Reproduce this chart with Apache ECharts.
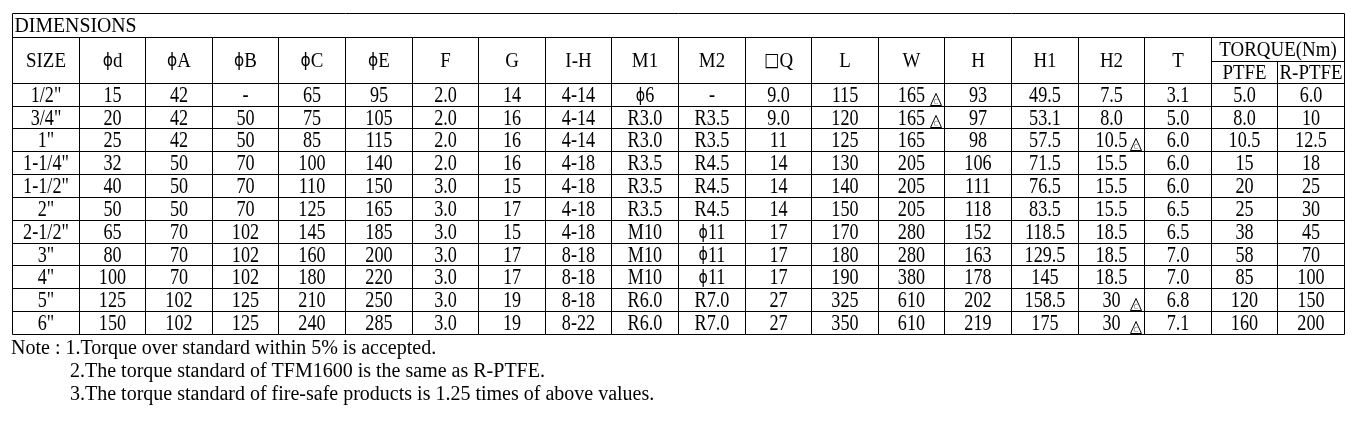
<!DOCTYPE html>
<html>
<head>
<meta charset="utf-8">
<script src="https://cdn.jsdelivr.net/npm/echarts@6/dist/echarts.min.js"></script>
<style>
html,body{margin:0;padding:0;background:#fff;}
#main{width:1363px;height:425px;}
</style>
</head>
<body>
<div id="main"></div>
<script>
// ---- data ----
const TITLE = 'DIMENSIONS';
const HEADERS = ['SIZE','ϕd','ϕA','ϕB','ϕC','ϕE','F','G','I-H','M1','M2','□Q','L','W','H','H1','H2','T'];
const TORQUE_HEADER = 'TORQUE(Nm)';
const TORQUE_SUB = ['PTFE','R-PTFE'];

const SIZE  = ['1/2"','3/4"','1"','1-1/4"','1-1/2"','2"','2-1/2"','3"','4"','5"','6"'];
const PHI_D = ['15','20','25','32','40','50','65','80','100','125','150'];
const PHI_A = ['42','42','42','50','50','50','70','70','70','102','102'];
const PHI_B = ['-','50','50','70','70','70','102','102','102','125','125'];
const PHI_C = ['65','75','85','100','110','125','145','160','180','210','240'];
const PHI_E = ['95','105','115','140','150','165','185','200','220','250','285'];
const F     = ['2.0','2.0','2.0','2.0','3.0','3.0','3.0','3.0','3.0','3.0','3.0'];
const G     = ['14','16','16','16','15','17','15','17','17','19','19'];
const I_H   = ['4-14','4-14','4-14','4-18','4-18','4-18','4-18','8-18','8-18','8-18','8-22'];
const M1    = ['ϕ6','R3.0','R3.0','R3.5','R3.5','R3.5','M10','M10','M10','R6.0','R6.0'];
const M2    = ['-','R3.5','R3.5','R4.5','R4.5','R4.5','ϕ11','ϕ11','ϕ11','R7.0','R7.0'];
const Q     = ['9.0','9.0','11','14','14','14','17','17','17','27','27'];
const L     = ['115','120','125','130','140','150','170','180','190','325','350'];
const W     = ['165','165','165','205','205','205','280','280','380','610','610'];
const H     = ['93','97','98','106','111','118','152','163','178','202','219'];
const H1    = ['49.5','53.1','57.5','71.5','76.5','83.5','118.5','129.5','145','158.5','175'];
const H2    = ['7.5','8.0','10.5','15.5','15.5','15.5','18.5','18.5','18.5','30','30'];
const T     = ['3.1','5.0','6.0','6.0','6.0','6.5','6.5','7.0','7.0','6.8','7.1'];
const PTFE  = ['5.0','8.0','10.5','15','20','25','38','58','85','120','160'];
const RPTFE = ['6.0','10','12.5','18','25','30','45','70','100','150','200'];

// cells flagged with the small "C" triangle mark
const W_MARK  = [1,1,0,0,0,0,0,0,0,0,0];
const H2_MARK = [0,0,1,0,0,0,0,0,0,1,1];

const NOTES = [
  'Note : 1.Torque over standard within 5% is accepted.',
  '2.The torque standard of TFM1600 is the same as R-PTFE.',
  '3.The torque standard of fire-safe products is 1.25 times of above values.'
];

// ---- build table cells ----
const COLUMNS = [SIZE,PHI_D,PHI_A,PHI_B,PHI_C,PHI_E,F,G,I_H,M1,M2,Q,L,W,H,H1,H2,T,PTFE,RPTFE];
const MARKS = {13: W_MARK, 16: H2_MARK};
const NCOL = COLUMNS.length;
const NROW = SIZE.length;
const R_TITLE = -3.05, R_HEAD = -2, R_SPLIT = -0.93;

const cells = [];
cells.push({c0:0, r0:R_TITLE, c1:NCOL, r1:R_HEAD, text:TITLE, kind:'title'});
HEADERS.forEach((h, i) => cells.push({c0:i, r0:R_HEAD, c1:i+1, r1:0, text:h, kind:'head'}));
cells.push({c0:18, r0:R_HEAD, c1:20, r1:R_SPLIT, text:TORQUE_HEADER, kind:'head'});
TORQUE_SUB.forEach((h, i) => cells.push({c0:18+i, r0:R_SPLIT, c1:19+i, r1:0, text:h, kind:'head'}));
COLUMNS.forEach((col, ci) => {
  col.forEach((v, ri) => {
    cells.push({c0:ci, r0:ri, c1:ci+1, r1:ri+1, text:v, kind:'data',
      mark: MARKS[ci] ? MARKS[ci][ri] === 1 : false});
  });
});

function richify(s) {
  return s.replace(/ϕ/g, '{p|ϕ}').replace(/□/g, '{q|□}');
}

const SERIF = '"Liberation Serif", "Times New Roman", serif';
const RICH = {
  p: {fontFamily: '"DejaVu Sans"', fontSize: 18, fill: '#000'},
  q: {fontFamily: '"DejaVu Sans"', fontSize: 19, fill: '#000'}
};

function renderItem(params, api) {
  const cell = cells[params.dataIndex];
  const a = api.coord([api.value(0), api.value(1)]);
  const b = api.coord([api.value(2), api.value(3)]);
  const x0 = Math.round(a[0]) + 0.5, y0 = Math.round(a[1]) + 0.5;
  const x1 = Math.round(b[0]) + 0.5, y1 = Math.round(b[1]) + 0.5;
  const children = [{
    type: 'rect',
    shape: {x: x0, y: y0, width: x1 - x0, height: y1 - y0},
    style: {fill: 'none', stroke: '#000', lineWidth: 1}
  }];
  const isTitle = cell.kind === 'title';
  const isData = cell.kind === 'data';
  const sx = isTitle ? 0.9 : (isData ? 0.79 : 0.86);
  children.push({
    type: 'text',
    x: isTitle ? x0 + 2 : (x0 + x1) / 2,
    y: (y0 + y1) / 2 + 1,
    scaleX: sx,
    style: {
      text: richify(String(cell.text)),
      x: 0, y: 0,
      align: isTitle ? 'left' : 'center',
      verticalAlign: 'middle',
      fontFamily: SERIF,
      fontSize: isData ? 23 : 22,
      fill: '#000',
      rich: RICH
    }
  });
  if (cell.mark) {
    const tr = x1 - 3, tb = y1 - 1;
    children.push({
      type: 'polygon',
      shape: {points: [[tr - 11, tb], [tr, tb], [tr - 5.5, tb - 12]]},
      style: {fill: 'none', stroke: '#000', lineWidth: 1}
    });
    children.push({
      type: 'text',
      x: tr - 5.5, y: tb - 3.5,
      style: {text: 'C', x: 0, y: 0, align: 'center', verticalAlign: 'middle',
        fontFamily: '"DejaVu Sans"', fontSize: 7, fill: '#888'}
    });
  }
  return {type: 'group', children};
}

const chart = echarts.init(document.getElementById('main'), null, {renderer: 'canvas'});
chart.setOption({
  animation: false,
  backgroundColor: '#fff',
  grid: {left: 12, right: 19, top: 13, bottom: 91},
  xAxis: {type: 'value', min: 0, max: NCOL, show: false},
  yAxis: {type: 'value', min: R_TITLE, max: NROW, inverse: true, show: false},
  series: [{
    type: 'custom',
    renderItem: renderItem,
    data: cells.map(c => [c.c0, c.r0, c.c1, c.r1]),
    encode: {x: [0, 2], y: [1, 3]},
    silent: true
  }],
  graphic: NOTES.map((t, i) => ({
    type: 'text',
    x: i === 0 ? 11 : 70,
    y: 349 + i * 23,
    style: {text: t, fontFamily: SERIF, fontSize: 20, fill: '#000', verticalAlign: 'middle'}
  }))
});
</script>
</body>
</html>
